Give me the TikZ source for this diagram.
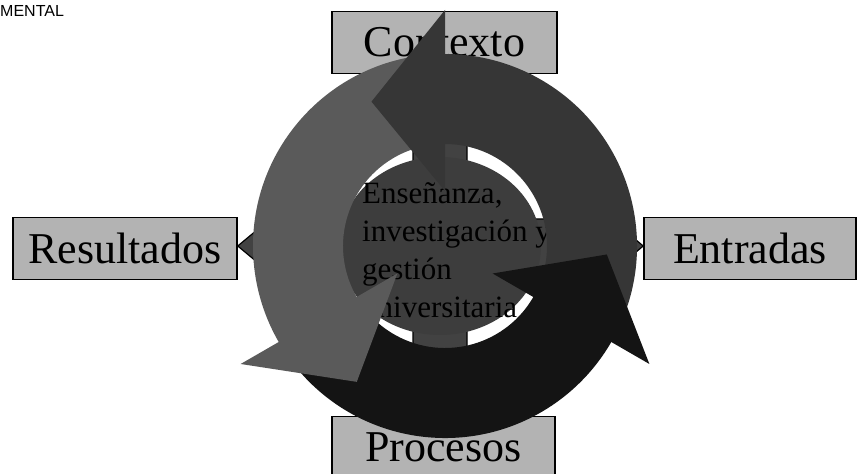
\documentclass[tikz,border=0pt]{standalone}
\usepackage{fontspec}
\setmainfont{Liberation Serif}
\newfontfamily\headsans{Liberation Sans}
\usetikzlibrary{calc,shapes.geometric,backgrounds}

\definecolor{boxgray}{RGB}{179,179,179}
\definecolor{hubgray}{RGB}{61,61,61}
\definecolor{linkgray}{RGB}{66,66,66}
\definecolor{ringgray}{RGB}{90,90,90}
\definecolor{ringdark}{RGB}{54,54,54}
\definecolor{ringblack}{RGB}{20,20,20}

\tikzset{
  box/.style={draw=black, line width=1.5pt, fill=boxgray, minimum height=62pt,
    inner sep=0pt, font=\fontsize{44}{50}\selectfont},
  hub/.style={ellipse, fill=hubgray, minimum width=202pt, minimum height=178pt, inner sep=0pt},
  hubtext/.style={align=left, inner sep=0pt, font=\fontsize{31}{38}\selectfont},
  headtext/.style={inner sep=0pt, font=\headsans\fontsize{16}{18}\selectfont},
  link/.style={draw=black, line width=1.2pt, fill=linkgray},
  blockarrow/.style={to path={
    let \p1=(\tikztostart), \p2=(\tikztotarget), \n1={atan2(\y2-\y1,\x2-\x1)} in
    ($(\p1)+(\n1+90:27pt)$)
    -- ($(\p2)+(\n1+180:54pt)+(\n1+90:27pt)$)
    -- ($(\p2)+(\n1+180:54pt)+(\n1+90:45pt)$)
    -- (\p2)
    -- ($(\p2)+(\n1+180:54pt)+(\n1-90:45pt)$)
    -- ($(\p2)+(\n1+180:54pt)+(\n1-90:27pt)$)
    -- ($(\p1)+(\n1-90:27pt)$) -- cycle}}
}

\begin{document}
\begin{tikzpicture}[x=1pt,y=1pt]

  \useasboundingbox (0,0) rectangle (857,474);
  \clip (0,0) rectangle (857,474);

  \node[headtext, anchor=base west] (hdr) at (0,457.5) {MENTAL};

  % boxes round the cycle
  \node[box, minimum width=225pt] (ctx) at (444.5,431.5) {Contexto};
  \node[box, minimum width=224pt] (res) at (125,225.5)   {Resultados};
  \node[box, minimum width=212pt] (ent) at (750,225.5)   {Entradas};
  \node[box, minimum width=223pt] (pro) at (443.5,26.5)  {Procesos};

  % centre
  \coordinate (o) at (445,228);
  \node[hub] (c) at (440,228) {};
  \node[hubtext, anchor=west] (ctext) at (362,224)
    {Enseñanza,\\investigación y\\gestión\\universitaria};

  \begin{scope}[on background layer]
    \path[link] (c.center) to[blockarrow] (c.center |- ctx.south);
    \path[link] (c.center) to[blockarrow] (c.center |- pro.north);
    \path[link] (c.center) to[blockarrow] (res.east |- c.center);
    \path[link] (c.center) to[blockarrow] (ent.west |- c.center);
  \end{scope}

  % ring of arrows
  \fill[ringdark]  ($(o)+(-28:192pt)$) arc[start angle=-28, end angle=91, radius=192pt]
    -- ($(o)+(91:102pt)$) arc[start angle=91, end angle=-28, radius=102pt] -- cycle;
  \fill[ringgray]  ($(o)+(92:192pt)$) arc[start angle=92, end angle=211, radius=192pt]
    -- ($(o)+(211:102pt)$) arc[start angle=211, end angle=92, radius=102pt] -- cycle;
  \fill[ringblack] ($(o)+(212:192pt)$) arc[start angle=212, end angle=331, radius=192pt]
    -- ($(o)+(331:102pt)$) arc[start angle=331, end angle=212, radius=102pt] -- cycle;

  \fill[ringdark]  ($(o)+(90:55pt)$)  -- ($(o)+(90:236pt)$)  -- ($(o)+(117:162pt)$) -- cycle;
  \fill[ringgray]  ($(o)+(210:55pt)$) -- ($(o)+(210:236pt)$) -- ($(o)+(237:162pt)$) -- cycle;
  \fill[ringblack] ($(o)+(330:55pt)$) -- ($(o)+(330:236pt)$) -- ($(o)+(357:162pt)$) -- cycle;

\end{tikzpicture}
\end{document}
